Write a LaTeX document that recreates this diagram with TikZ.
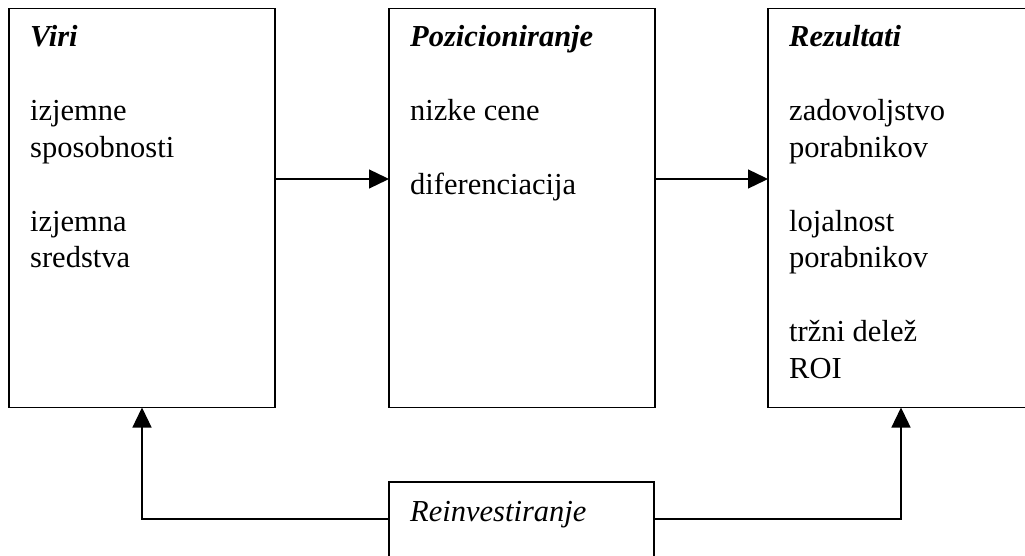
\documentclass[tikz,border=0pt]{standalone}
\usepackage{fontspec}
\setmainfont{Liberation Serif}
\usetikzlibrary{arrows.meta}
\begin{document}
\begin{tikzpicture}[x=1pt,y=-1pt,
  box/.style={draw,line width=1.3pt,rectangle,minimum width=266pt,minimum height=399pt,anchor=north west,inner sep=0pt,outer sep=0pt},
  lbox/.style={draw,line width=1.3pt,rectangle,minimum width=265pt,minimum height=76pt,anchor=north west,inner sep=0pt,outer sep=0pt},
  txt/.style={anchor=base west,inner sep=0pt,font=\fontsize{30.5}{36.8}\selectfont},
  ttl/.style={txt,font=\fontsize{30.5}{36.8}\selectfont\bfseries\itshape},
  conn/.style={line width=1.3pt,-{Triangle[length=20pt,width=19pt]}}]
\useasboundingbox (0,0) rectangle (1025,556);
\clip (0,0) rectangle (1025,556);
\fill[white] (0,0) rectangle (1025,556);
\node[box] (viri) at (9,8.5) {};
\node[box] (poz) at (389,8.5) {};
\node[box] (rez) at (768,8.5) {};
\node[lbox] (rein) at (389,482) {};
% texts
\node[ttl] (t1) at (30,47) {Viri};
\node[txt] (t1a) at (30,120.6) {izjemne};
\node[txt] (t1b) at (30,157.4) {sposobnosti};
\node[txt] (t1c) at (30,231) {izjemna};
\node[txt] (t1d) at (30,267.8) {sredstva};
\node[ttl] (t2) at (410,47) {Pozicioniranje};
\node[txt] (t2a) at (410,120.6) {nizke cene};
\node[txt] (t2b) at (410,194.2) {diferenciacija};
\node[ttl] (t3) at (789,47) {Rezultati};
\node[txt] (t3a) at (789,120.6) {zadovoljstvo};
\node[txt] (t3b) at (789,157.4) {porabnikov};
\node[txt] (t3c) at (789,231) {lojalnost};
\node[txt] (t3d) at (789,267.8) {porabnikov};
\node[txt] (t3e) at (789,341.4) {tržni delež};
\node[txt] (t3f) at (789,378.2) {ROI};
\node[txt,font=\fontsize{30.5}{36.8}\selectfont\itshape] (t4) at (410,521) {Reinvestiranje};
% connectors
\draw[conn] (viri.east |- 0,179) -- (poz.west |- 0,179);
\draw[conn] (poz.east |- 0,179) -- (rez.west |- 0,179);
\draw[conn] (rein.west |- 0,519) -| (viri.south);
\draw[conn] (rein.east |- 0,519) -| (rez.south);
\end{tikzpicture}
\end{document}
